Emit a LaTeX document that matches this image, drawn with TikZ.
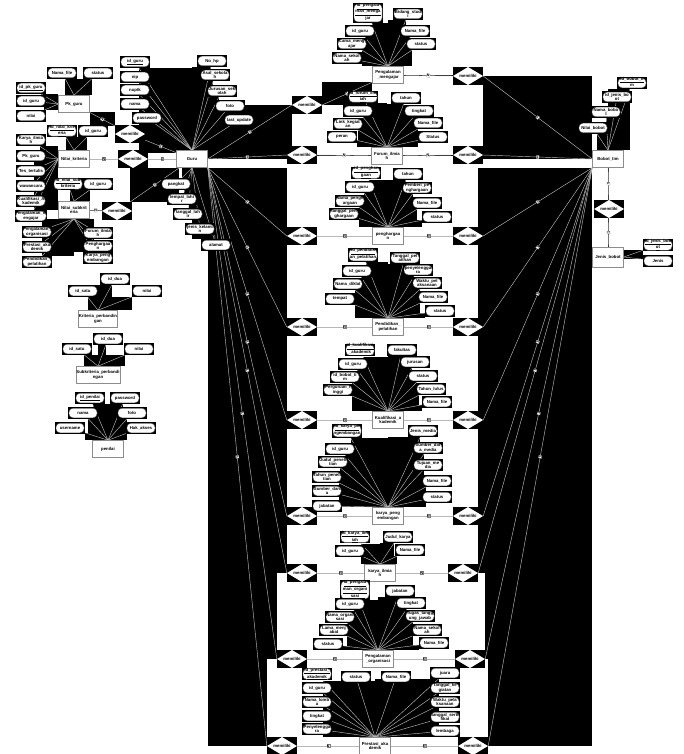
\documentclass[tikz,border=0pt]{standalone}
\usepackage{fontspec}
\setmainfont{Liberation Sans}
\pgfdeclarelayer{back}\pgfdeclarelayer{bg}\pgfdeclarelayer{ed}
\pgfsetlayers{back,bg,ed,main}
\tikzset{
 every node/.style={font=\fontsize{4.3}{4.6}\selectfont\bfseries, align=center, inner sep=0.3pt},
 ent/.style={draw=black!45, fill=white, line width=0.6pt, minimum width=31pt, minimum height=17pt},
 attr/.style={fill=black, minimum width=30pt, minimum height=11.5pt,
   path picture={\draw[black!60, fill=white, line width=0.4pt, rounded corners=4pt]
     ([shift={(1pt,1pt)}]path picture bounding box.south west) rectangle
     ([shift={(-1pt,-1pt)}]path picture bounding box.north east);}},
 rel/.style={fill=black, minimum width=30pt, minimum height=18pt,
   path picture={\fill[white] (path picture bounding box.west) -- (path picture bounding box.north)
     -- (path picture bounding box.east) -- (path picture bounding box.south) -- cycle;}},
 ln/.style={draw=black!28, line width=0.45pt},
 lbl/.style={fill=white, draw=black!50, line width=0.2pt, font=\fontsize{3.6}{3.8}\selectfont\bfseries, inner sep=0.3pt, sloped},
}
\newcommand\er[2]{%
  \path (#1) -- (#2) coordinate[pos=0] (erS) coordinate[pos=1] (erT);%
  \begin{pgfonlayer}{bg}\fill[black] (erS) rectangle (erT);\end{pgfonlayer}%
  \begin{pgfonlayer}{ed}\draw[ln] (erS) -- (erT);\end{pgfonlayer}}
\newcommand\erl[3]{%
  \path (#1) -- (#2) coordinate[pos=0] (erS) coordinate[pos=1] (erT);%
  \begin{pgfonlayer}{bg}\fill[black] (erS) rectangle (erT);\end{pgfonlayer}%
  \begin{pgfonlayer}{ed}\draw[ln] (erS) -- node[lbl]{#3} (erT);\end{pgfonlayer}}
\newcommand\A[5]{\node[attr] (#1) at (#2,#3) {#4};\er{#1}{#5}}
\begin{document}
\catcode`\_=12
\begin{tikzpicture}[x=1pt,y=-1pt]
\useasboundingbox (0,0) rectangle (683,754);
\begin{pgfonlayer}{back}\fill[white] (0,0) rectangle (683,754);\end{pgfonlayer}
% ---------- entities
\node[ent] (guru) at (192,159) {Guru};
\node[ent] (pk) at (74,104) {Pk_guru};
\node[ent] (nk) at (74,159) {Nilai_kriteria};
\node[ent] (ns) at (74,210) {Nilai_subkrit\\eria};
\node[ent] (kp) at (98,319) {Kriteria_perbandin\\gan};
\node[ent] (sp) at (98,375) {Subkriteria_perbandi\\ngan};
\node[ent] (pn) at (108,449) {penilai};
\node[ent] (bt) at (608,159) {Bobot_tim};
\node[ent, minimum height=20pt] (jb) at (608,257) {Jenis_bobot};
\node[ent] (E1) at (388,75) {Pengalaman\\_mengajar};
\node[ent] (E2) at (387,156) {Forum_ilmia\\h};
\node[ent] (E3) at (388,236) {penghargaa\\n};
\node[ent] (E4) at (388,327) {Pendidikan_\\pelatihan};
\node[ent] (E5) at (388,420) {Kualifikasi_a\\kademik};
\node[ent] (E6) at (388,516) {karya_peng\\embangan};
\node[ent] (E7) at (380,573) {karya_ilmia\\h};
\node[ent] (E8) at (378,659) {Pengalaman\\_organisasi};
\node[ent] (E9) at (375,746) {Prestasi_aka\\demik};
% ---------- relationships
\node[rel] (rpk) at (130,134) {memiliki};
\node[rel] (rnk) at (133,159) {memiliki};
\node[rel] (rns) at (117,211) {memiliki};
\node[rel] (rbj) at (609,209) {memiliki};
\node[rel] (L1) at (307,105) {memiliki};
\node[rel] (L2) at (302,155) {memiliki};
\node[rel] (L3) at (302,236) {memiliki};
\node[rel] (L4) at (302,327) {memiliki};
\node[rel] (L5) at (302,420) {memiliki};
\node[rel] (L6) at (302,516) {memiliki};
\node[rel] (L7) at (302,573) {memiliki};
\node[rel] (L8) at (292,659) {memiliki};
\node[rel] (L9) at (282,746) {memiliki};
\node[rel] (R1) at (468,76) {memiliki};
\node[rel] (R2) at (468,155) {memiliki};
\node[rel] (R3) at (468,236) {memiliki};
\node[rel] (R4) at (468,327) {memiliki};
\node[rel] (R5) at (468,420) {memiliki};
\node[rel] (R6) at (468,516) {memiliki};
\node[rel] (R7) at (463,573) {memiliki};
\node[rel] (R8) at (470,659) {memiliki};
\node[rel] (R9) at (473,746) {memiliki};
% ---------- relationship edges
\erl{pk}{rpk}{N}\erl{rpk}{guru}{1}
\erl{nk}{rnk}{N}\erl{rnk}{guru}{1}
\erl{ns}{rns}{N}\erl{rns}{guru}{1}
\erl{bt}{rbj}{1}\erl{rbj}{jb}{1}
\erl{guru.east}{L1.west}{1}
\erl{guru.east}{L2.west}{1}
\erl{guru.south east}{L3.west}{1}
\erl{guru.south east}{L4.west}{1}
\erl{guru.south east}{L5.west}{1}
\erl{guru.south east}{L6.west}{1}
\erl{guru.south east}{L7.west}{1}
\erl{guru.south east}{L8.west}{1}
\erl{guru.south east}{L9.west}{1}
\erl{bt.west}{R1.east}{1}
\erl{bt.west}{R2.east}{1}
\erl{bt.south west}{R3.east}{1}
\erl{bt.south west}{R4.east}{1}
\erl{bt.south west}{R5.east}{1}
\erl{bt.south west}{R6.east}{1}
\erl{bt.south west}{R7.east}{1}
\erl{bt.south west}{R8.east}{1}
\erl{bt.south west}{R9.east}{1}
\erl{L1.east}{E1}{1}\erl{E1}{R1.west}{N}
\erl{L2.east}{E2}{N}\erl{E2}{R2.west}{N}
\erl{L3.east}{E3}{N}\erl{E3}{R3.west}{N}
\erl{L4.east}{E4}{N}\erl{E4}{R4.west}{N}
\erl{L5.east}{E5}{N}\erl{E5}{R5.west}{N}
\erl{L6.east}{E6}{N}\erl{E6}{R6.west}{N}
\erl{L7.east}{E7}{N}\erl{E7}{R7.west}{N}
\erl{L8.east}{E8}{N}\erl{E8}{R8.west}{N}
\erl{L9.east}{E9}{N}\erl{E9}{R9.west}{N}
% ---------- Guru attributes
\A{g1}{135}{62}{\underline{id_guru}}{guru.north}
\A{g2}{135}{77}{nip}{guru.north}
\A{g3}{135}{90}{nuptk}{guru.north}
\A{g4}{135}{104}{nama}{guru.north}
\A{g5}{147}{118}{password}{guru.north}
\A{g6}{212}{61}{No_hp}{guru.north}
\A{g7}{215}{75}{Asal_sekola\\h}{guru.north}
\A{g8}{222}{91}{Jurusan_sek\\olah}{guru.north}
\A{g9}{230}{106}{foto}{guru.north}
\A{g10}{239}{120}{last_update}{guru.north}
\A{g11}{176}{184}{pangkat}{guru.south}
\A{g12}{182}{199}{tempat_lahi\\r}{guru.south}
\A{g13}{188}{214}{tanggal_lah\\ir}{guru.south}
\A{g14}{200}{229}{jenis_kelami\\n}{guru.south}
\A{g15}{216}{245}{alamat}{guru.south}
% ---------- Pk_guru
\A{p1}{62}{73}{Nama_file}{pk.north}
\A{p2}{98}{73}{status}{pk.north}
\A{p3}{31}{88}{\underline{id_pk_guru}}{pk.west}
\A{p4}{31}{101}{id_guru}{pk.west}
\A{p5}{31}{116}{nilai}{pk.west}
% ---------- Nilai_kriteria
\A{k1}{62}{131}{\underline{id_nilai_krit}\\\underline{eria}}{nk.north}
\A{k2}{93}{131}{id_guru}{nk.north}
\A{k3}{31}{140}{Karya_ilmia\\h}{nk.west}
\A{k4}{31}{156}{Pk_guru}{nk.west}
\A{k5}{31}{171}{Tes_tertulis}{nk.west}
\A{k6}{31}{186}{wawancara}{nk.west}
\A{k7}{31}{201}{Kualifikasi_A\\kademik}{nk.west}
\A{k8}{31}{216}{Pengalaman_m\\engajar}{nk.west}
% ---------- Nilai_subkriteria
\A{s1}{68}{184}{\underline{id_nilai_sub}\\\underline{kriteria}}{ns.north}
\A{s2}{98}{184}{id_guru}{ns.north}
\A{s3}{37}{232}{Pengalaman_\\organisasi}{ns.south}
\A{s4}{37}{247}{Prestasi_aka\\demik}{ns.south}
\A{s5}{37}{262}{Pendidikan_\\pelatihan}{ns.south}
\A{s6}{98}{233}{Forum_ilmia\\h}{ns.south}
\A{s7}{98}{246}{Penghargaa\\n}{ns.south}
\A{s8}{98}{258}{Karya_peng\\embangan}{ns.south}
% ---------- Kriteria / Subkriteria / penilai
\A{a1}{115}{279}{id_dua}{kp.north}
\A{a2}{83}{291}{id_satu}{kp.north}
\A{a3}{147}{291}{nilai}{kp.north}
\A{b1}{108}{339}{id_dua}{sp.north}
\A{b2}{77}{349}{id_satu}{sp.north}
\A{b3}{139}{349}{nilai}{sp.north}
\A{n1}{90}{398}{\underline{id_penilai}}{pn.north}
\A{n2}{125}{398}{password}{pn.north}
\A{n3}{83}{413}{nama}{pn.north}
\A{n4}{132}{413}{foto}{pn.north}
\A{n5}{70}{428}{username}{pn.north}
\A{n6}{141}{428}{Hak_akses}{pn.north}
% ---------- Bobot_tim / Jenis_bobot
\A{t1}{632}{83}{\underline{id_bobot_ti}\\\underline{m}}{bt.north}
\A{t2}{617}{97}{id_jenis_bo\\ot}{bt.north}
\A{t3}{606}{112}{Nama_bobo\\t}{bt.north}
\A{t4}{593}{128}{Nilai_bobot}{bt.north}
\A{j1}{658}{245}{\underline{id_jenis_bob}\\\underline{ot}}{jb.east}
\A{j2}{658}{261}{Jenis}{jb.east}
% ---------- Row 1 Pengalaman_mengajar
\A{r1a}{368}{13}{\underline{id_pengala}\\\underline{man_menga}\\\underline{jar}}{E1.north}
\A{r1b}{360}{31}{id_guru}{E1.north}
\A{r1c}{352}{44}{Lama_meng\\ajar}{E1.north}
\A{r1d}{347}{58}{Nama_sekol\\ah}{E1.north}
\A{r1e}{408}{14}{Bidang_stud\\i}{E1.north}
\A{r1f}{415}{31}{Nama_file}{E1.north}
\A{r1g}{421}{44}{status}{E1.north}
% ---------- Row 2 Forum_ilmiah
\A{r2a}{363}{97}{\underline{id_forum_ilm}\\\underline{iah}}{E2.north}
\A{r2b}{358}{111}{id_guru}{E2.north}
\A{r2c}{348}{124}{Link_kegiat\\an}{E2.north}
\A{r2d}{342}{137}{peran}{E2.north}
\A{r2e}{406}{98}{tahun}{E2.north}
\A{r2f}{419}{111}{tingkat}{E2.north}
\A{r2g}{428}{123}{Nama_file}{E2.north}
\A{r2h}{433}{137}{Status}{E2.north}
% ---------- Row 3 penghargaan
\A{r3a}{366}{173}{\underline{id_penghar}\\\underline{gaan}}{E3.north}
\A{r3b}{360}{187}{id_guru}{E3.north}
\A{r3c}{350}{201}{Nama_pengh\\argaan}{E3.north}
\A{r3d}{344}{214}{tanggal_pen\\ghargaan}{E3.north}
\A{r3e}{408}{174}{tahun}{E3.north}
\A{r3f}{417}{188}{Pemberi_pe\\nghargaan}{E3.north}
\A{r3g}{427}{203}{Nama_file}{E3.north}
\A{r3h}{437}{217}{status}{E3.north}
% ---------- Row 4 Pendidikan_pelatihan
\A{r4a}{363}{255}{\underline{id_pendidik}\\\underline{an_pelatihan}}{E4.north}
\A{r4b}{357}{271}{id_guru}{E4.north}
\A{r4c}{348}{284}{Nama_diklat}{E4.north}
\A{r4d}{340}{299}{tempat}{E4.north}
\A{r4e}{405}{258}{Tanggal_pel\\atihan}{E4.north}
\A{r4f}{418}{270}{penyelengga\\ra}{E4.north}
\A{r4g}{427}{283}{Waktu_pel\\aksanaan}{E4.north}
\A{r4h}{433}{297}{Nama_file}{E4.north}
\A{r4i}{440}{311}{status}{E4.north}
% ---------- Row 5 Kualifikasi_akademik
\A{r5a}{360}{350}{\underline{id_kualifikasi}\\\underline{_akademik}}{E5.north}
\A{r5b}{353}{364}{id_guru}{E5.north}
\A{r5c}{345}{377}{id_bobot_ti\\m}{E5.north}
\A{r5d}{338}{390}{Perguruan_t\\inggi}{E5.north}
\A{r5e}{402}{350}{fakultas}{E5.north}
\A{r5f}{415}{362}{jurusan}{E5.north}
\A{r5g}{423}{376}{status}{E5.north}
\A{r5h}{431}{389}{Tahun_lulus}{E5.north}
\A{r5i}{437}{402}{Nama_file}{E5.north}
% ---------- Row 6 karya_pengembangan
\A{r6a}{347}{431}{\underline{id_karya_pe}\\\underline{ngembangan}}{E6.north}
\A{r6b}{340}{449}{id_guru}{E6.north}
\A{r6c}{333}{462}{Judul_peneli\\tian}{E6.north}
\A{r6d}{327}{477}{Tahun_peneli\\tian}{E6.north}
\A{r6e}{327}{491}{Sumber_dan\\a}{E6.north}
\A{r6f}{327}{506}{jabatan}{E6.north}
\A{r6g}{423}{431}{Jenis_media}{E6.north}
\A{r6h}{428}{448}{Sumber_dat\\a_media}{E6.north}
\A{r6i}{428}{465}{Tujuan_me\\dia}{E6.north}
\A{r6j}{437}{481}{Nama_file}{E6.north}
\A{r6k}{437}{497}{status}{E6.north}
% ---------- Row 7 karya_ilmiah
\A{r7a}{355}{537}{\underline{id_karya_ilm}\\\underline{iah}}{E7.north}
\A{r7b}{350}{551}{id_guru}{E7.north}
\A{r7c}{398}{537}{Judul_karya}{E7.north}
\A{r7d}{410}{550}{Nama_file}{E7.north}
% ---------- Row 8 Pengalaman_organisasi
\A{r8a}{355}{590}{\underline{id_pengala}\\\underline{man_organi}\\\underline{sasi}}{E8.north}
\A{r8b}{350}{604}{id_guru}{E8.north}
\A{r8c}{340}{617}{Nama_organi\\sasi}{E8.north}
\A{r8d}{334}{630}{Lama_menj\\abat}{E8.north}
\A{r8e}{328}{644}{status}{E8.north}
\A{r8f}{400}{591}{jabatan}{E8.north}
\A{r8g}{411}{603}{tingkat}{E8.north}
\A{r8h}{420}{616}{Tugas_tangg\\ung_jawab}{E8.north}
\A{r8i}{427}{630}{Nama_sekol\\ah}{E8.north}
\A{r8j}{434}{643}{Nama_file}{E8.north}
% ---------- Row 9 Prestasi_akademik
\A{r9a}{317}{674}{\underline{id_prestasi_}\\\underline{akademik}}{E9.north}
\A{r9b}{317}{688}{id_guru}{E9.north}
\A{r9c}{317}{702}{Nama_lomb\\a}{E9.north}
\A{r9d}{317}{716}{tingkat}{E9.north}
\A{r9e}{317}{729}{Penyelengga\\ra}{E9.north}
\A{r9f}{356}{677}{status}{E9.north}
\A{r9g}{396}{677}{Nama_file}{E9.north}
\A{r9h}{445}{673}{juara}{E9.north}
\A{r9i}{445}{688}{Tanggal_ke\\giatan}{E9.north}
\A{r9j}{445}{702}{Waktu_pela\\ksanaan}{E9.north}
\A{r9k}{445}{717}{tanggal_serti\\fikat}{E9.north}
\A{r9l}{445}{731}{lembaga}{E9.north}
\end{tikzpicture}
\end{document}
